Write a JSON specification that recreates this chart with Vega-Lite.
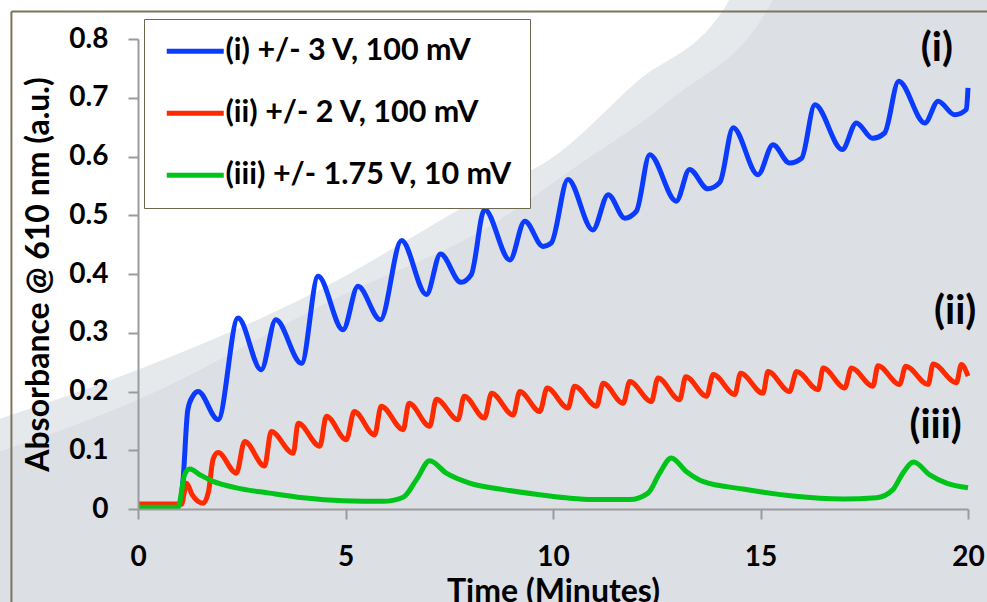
{
  "$schema": "https://vega.github.io/schema/vega-lite/v6.json",
  "autosize": {"type": "none"},
  "padding": {"left": 138, "top": 39, "right": 19, "bottom": 93},
  "width": 830,
  "height": 470,
  "background": "#dcdfe4",
  "config": {
    "view": {"stroke": null},
    "font": "Lato",
    "axis": {"grid": false, "domainColor": "#9b9b9b", "domainWidth": 2, "tickColor": "#9b9b9b", "tickWidth": 2, "tickSize": 10, "labelFont": "Lato", "labelFontWeight": "bold", "labelFontSize": 28, "labelColor": "#000000", "titleFont": "Lato", "titleFontWeight": "bold", "titleFontSize": 32, "titleColor": "#000000"}
  },
  "datasets": {
    "curves": [
      {"s": "(i) +/- 3 V, 100 mV", "t": 0, "a": 0.008},
      {"s": "(i) +/- 3 V, 100 mV", "t": 1.0, "a": 0.008},
      {"s": "(i) +/- 3 V, 100 mV", "t": 1.08, "a": 0.045},
      {"s": "(i) +/- 3 V, 100 mV", "t": 1.2, "a": 0.169},
      {"s": "(i) +/- 3 V, 100 mV", "t": 1.32, "a": 0.192},
      {"s": "(i) +/- 3 V, 100 mV", "t": 1.45, "a": 0.2},
      {"s": "(i) +/- 3 V, 100 mV", "t": 1.93, "a": 0.152},
      {"s": "(i) +/- 3 V, 100 mV", "t": 2.41, "a": 0.325},
      {"s": "(i) +/- 3 V, 100 mV", "t": 2.97, "a": 0.237},
      {"s": "(i) +/- 3 V, 100 mV", "t": 3.32, "a": 0.322},
      {"s": "(i) +/- 3 V, 100 mV", "t": 3.94, "a": 0.248},
      {"s": "(i) +/- 3 V, 100 mV", "t": 4.34, "a": 0.396},
      {"s": "(i) +/- 3 V, 100 mV", "t": 4.94, "a": 0.305},
      {"s": "(i) +/- 3 V, 100 mV", "t": 5.3, "a": 0.379},
      {"s": "(i) +/- 3 V, 100 mV", "t": 5.84, "a": 0.322},
      {"s": "(i) +/- 3 V, 100 mV", "t": 6.35, "a": 0.457},
      {"s": "(i) +/- 3 V, 100 mV", "t": 6.95, "a": 0.365},
      {"s": "(i) +/- 3 V, 100 mV", "t": 7.29, "a": 0.434},
      {"s": "(i) +/- 3 V, 100 mV", "t": 7.78, "a": 0.386},
      {"s": "(i) +/- 3 V, 100 mV", "t": 8.03, "a": 0.399},
      {"s": "(i) +/- 3 V, 100 mV", "t": 8.35, "a": 0.51},
      {"s": "(i) +/- 3 V, 100 mV", "t": 8.96, "a": 0.424},
      {"s": "(i) +/- 3 V, 100 mV", "t": 9.32, "a": 0.49},
      {"s": "(i) +/- 3 V, 100 mV", "t": 9.76, "a": 0.447},
      {"s": "(i) +/- 3 V, 100 mV", "t": 9.96, "a": 0.453},
      {"s": "(i) +/- 3 V, 100 mV", "t": 10.36, "a": 0.561},
      {"s": "(i) +/- 3 V, 100 mV", "t": 10.96, "a": 0.475},
      {"s": "(i) +/- 3 V, 100 mV", "t": 11.33, "a": 0.535},
      {"s": "(i) +/- 3 V, 100 mV", "t": 11.73, "a": 0.495},
      {"s": "(i) +/- 3 V, 100 mV", "t": 12.01, "a": 0.507},
      {"s": "(i) +/- 3 V, 100 mV", "t": 12.33, "a": 0.603},
      {"s": "(i) +/- 3 V, 100 mV", "t": 12.97, "a": 0.524},
      {"s": "(i) +/- 3 V, 100 mV", "t": 13.29, "a": 0.578},
      {"s": "(i) +/- 3 V, 100 mV", "t": 13.73, "a": 0.545},
      {"s": "(i) +/- 3 V, 100 mV", "t": 14.02, "a": 0.556},
      {"s": "(i) +/- 3 V, 100 mV", "t": 14.34, "a": 0.649},
      {"s": "(i) +/- 3 V, 100 mV", "t": 14.94, "a": 0.569},
      {"s": "(i) +/- 3 V, 100 mV", "t": 15.3, "a": 0.62},
      {"s": "(i) +/- 3 V, 100 mV", "t": 15.7, "a": 0.589},
      {"s": "(i) +/- 3 V, 100 mV", "t": 15.99, "a": 0.597},
      {"s": "(i) +/- 3 V, 100 mV", "t": 16.31, "a": 0.688},
      {"s": "(i) +/- 3 V, 100 mV", "t": 16.97, "a": 0.612},
      {"s": "(i) +/- 3 V, 100 mV", "t": 17.31, "a": 0.657},
      {"s": "(i) +/- 3 V, 100 mV", "t": 17.7, "a": 0.631},
      {"s": "(i) +/- 3 V, 100 mV", "t": 17.99, "a": 0.64},
      {"s": "(i) +/- 3 V, 100 mV", "t": 18.33, "a": 0.728},
      {"s": "(i) +/- 3 V, 100 mV", "t": 18.96, "a": 0.657},
      {"s": "(i) +/- 3 V, 100 mV", "t": 19.28, "a": 0.694},
      {"s": "(i) +/- 3 V, 100 mV", "t": 19.68, "a": 0.671},
      {"s": "(i) +/- 3 V, 100 mV", "t": 19.96, "a": 0.68},
      {"s": "(i) +/- 3 V, 100 mV", "t": 20.0, "a": 0.717},
      {"s": "(ii) +/- 2 V, 100 mV", "t": 0, "a": 0.008},
      {"s": "(ii) +/- 2 V, 100 mV", "t": 1.05, "a": 0.008},
      {"s": "(ii) +/- 2 V, 100 mV", "t": 1.12, "a": 0.03},
      {"s": "(ii) +/- 2 V, 100 mV", "t": 1.17, "a": 0.044},
      {"s": "(ii) +/- 2 V, 100 mV", "t": 1.3, "a": 0.025},
      {"s": "(ii) +/- 2 V, 100 mV", "t": 1.57, "a": 0.01},
      {"s": "(ii) +/- 2 V, 100 mV", "t": 1.7, "a": 0.03},
      {"s": "(ii) +/- 2 V, 100 mV", "t": 1.81, "a": 0.085},
      {"s": "(ii) +/- 2 V, 100 mV", "t": 1.93, "a": 0.096},
      {"s": "(ii) +/- 2 V, 100 mV", "t": 2.37, "a": 0.061},
      {"s": "(ii) +/- 2 V, 100 mV", "t": 2.57, "a": 0.115},
      {"s": "(ii) +/- 2 V, 100 mV", "t": 3.05, "a": 0.073},
      {"s": "(ii) +/- 2 V, 100 mV", "t": 3.21, "a": 0.132},
      {"s": "(ii) +/- 2 V, 100 mV", "t": 3.74, "a": 0.095},
      {"s": "(ii) +/- 2 V, 100 mV", "t": 3.86, "a": 0.146},
      {"s": "(ii) +/- 2 V, 100 mV", "t": 4.38, "a": 0.107},
      {"s": "(ii) +/- 2 V, 100 mV", "t": 4.54, "a": 0.158},
      {"s": "(ii) +/- 2 V, 100 mV", "t": 5.02, "a": 0.118},
      {"s": "(ii) +/- 2 V, 100 mV", "t": 5.21, "a": 0.166},
      {"s": "(ii) +/- 2 V, 100 mV", "t": 5.7, "a": 0.126},
      {"s": "(ii) +/- 2 V, 100 mV", "t": 5.86, "a": 0.175},
      {"s": "(ii) +/- 2 V, 100 mV", "t": 6.39, "a": 0.135},
      {"s": "(ii) +/- 2 V, 100 mV", "t": 6.53, "a": 0.18},
      {"s": "(ii) +/- 2 V, 100 mV", "t": 7.03, "a": 0.141},
      {"s": "(ii) +/- 2 V, 100 mV", "t": 7.19, "a": 0.187},
      {"s": "(ii) +/- 2 V, 100 mV", "t": 7.71, "a": 0.152},
      {"s": "(ii) +/- 2 V, 100 mV", "t": 7.86, "a": 0.192},
      {"s": "(ii) +/- 2 V, 100 mV", "t": 8.35, "a": 0.155},
      {"s": "(ii) +/- 2 V, 100 mV", "t": 8.52, "a": 0.197},
      {"s": "(ii) +/- 2 V, 100 mV", "t": 9.04, "a": 0.16},
      {"s": "(ii) +/- 2 V, 100 mV", "t": 9.2, "a": 0.2},
      {"s": "(ii) +/- 2 V, 100 mV", "t": 9.68, "a": 0.166},
      {"s": "(ii) +/- 2 V, 100 mV", "t": 9.86, "a": 0.206},
      {"s": "(ii) +/- 2 V, 100 mV", "t": 10.36, "a": 0.172},
      {"s": "(ii) +/- 2 V, 100 mV", "t": 10.52, "a": 0.209},
      {"s": "(ii) +/- 2 V, 100 mV", "t": 11.05, "a": 0.175},
      {"s": "(ii) +/- 2 V, 100 mV", "t": 11.21, "a": 0.214},
      {"s": "(ii) +/- 2 V, 100 mV", "t": 11.69, "a": 0.18},
      {"s": "(ii) +/- 2 V, 100 mV", "t": 11.85, "a": 0.217},
      {"s": "(ii) +/- 2 V, 100 mV", "t": 12.37, "a": 0.183},
      {"s": "(ii) +/- 2 V, 100 mV", "t": 12.53, "a": 0.223},
      {"s": "(ii) +/- 2 V, 100 mV", "t": 13.05, "a": 0.186},
      {"s": "(ii) +/- 2 V, 100 mV", "t": 13.2, "a": 0.225},
      {"s": "(ii) +/- 2 V, 100 mV", "t": 13.7, "a": 0.192},
      {"s": "(ii) +/- 2 V, 100 mV", "t": 13.86, "a": 0.229},
      {"s": "(ii) +/- 2 V, 100 mV", "t": 14.38, "a": 0.195},
      {"s": "(ii) +/- 2 V, 100 mV", "t": 14.52, "a": 0.231},
      {"s": "(ii) +/- 2 V, 100 mV", "t": 15.06, "a": 0.197},
      {"s": "(ii) +/- 2 V, 100 mV", "t": 15.18, "a": 0.234},
      {"s": "(ii) +/- 2 V, 100 mV", "t": 15.7, "a": 0.2},
      {"s": "(ii) +/- 2 V, 100 mV", "t": 15.87, "a": 0.234},
      {"s": "(ii) +/- 2 V, 100 mV", "t": 16.39, "a": 0.203},
      {"s": "(ii) +/- 2 V, 100 mV", "t": 16.51, "a": 0.24},
      {"s": "(ii) +/- 2 V, 100 mV", "t": 17.03, "a": 0.206},
      {"s": "(ii) +/- 2 V, 100 mV", "t": 17.19, "a": 0.24},
      {"s": "(ii) +/- 2 V, 100 mV", "t": 17.71, "a": 0.209},
      {"s": "(ii) +/- 2 V, 100 mV", "t": 17.83, "a": 0.244},
      {"s": "(ii) +/- 2 V, 100 mV", "t": 18.35, "a": 0.212},
      {"s": "(ii) +/- 2 V, 100 mV", "t": 18.5, "a": 0.243},
      {"s": "(ii) +/- 2 V, 100 mV", "t": 19.04, "a": 0.212},
      {"s": "(ii) +/- 2 V, 100 mV", "t": 19.16, "a": 0.247},
      {"s": "(ii) +/- 2 V, 100 mV", "t": 19.72, "a": 0.215},
      {"s": "(ii) +/- 2 V, 100 mV", "t": 19.84, "a": 0.246},
      {"s": "(ii) +/- 2 V, 100 mV", "t": 20.0, "a": 0.226},
      {"s": "(iii) +/- 1.75 V, 10 mV", "t": 0, "a": 0.003},
      {"s": "(iii) +/- 1.75 V, 10 mV", "t": 0.97, "a": 0.003},
      {"s": "(iii) +/- 1.75 V, 10 mV", "t": 1.05, "a": 0.03},
      {"s": "(iii) +/- 1.75 V, 10 mV", "t": 1.12, "a": 0.058},
      {"s": "(iii) +/- 1.75 V, 10 mV", "t": 1.25, "a": 0.068},
      {"s": "(iii) +/- 1.75 V, 10 mV", "t": 1.5, "a": 0.058},
      {"s": "(iii) +/- 1.75 V, 10 mV", "t": 1.81, "a": 0.047},
      {"s": "(iii) +/- 1.75 V, 10 mV", "t": 2.37, "a": 0.036},
      {"s": "(iii) +/- 1.75 V, 10 mV", "t": 3.17, "a": 0.027},
      {"s": "(iii) +/- 1.75 V, 10 mV", "t": 3.98, "a": 0.019},
      {"s": "(iii) +/- 1.75 V, 10 mV", "t": 4.94, "a": 0.014},
      {"s": "(iii) +/- 1.75 V, 10 mV", "t": 5.9, "a": 0.013},
      {"s": "(iii) +/- 1.75 V, 10 mV", "t": 6.39, "a": 0.02},
      {"s": "(iii) +/- 1.75 V, 10 mV", "t": 6.71, "a": 0.05},
      {"s": "(iii) +/- 1.75 V, 10 mV", "t": 7.03, "a": 0.082},
      {"s": "(iii) +/- 1.75 V, 10 mV", "t": 7.43, "a": 0.061},
      {"s": "(iii) +/- 1.75 V, 10 mV", "t": 7.99, "a": 0.044},
      {"s": "(iii) +/- 1.75 V, 10 mV", "t": 8.8, "a": 0.033},
      {"s": "(iii) +/- 1.75 V, 10 mV", "t": 9.6, "a": 0.025},
      {"s": "(iii) +/- 1.75 V, 10 mV", "t": 10.32, "a": 0.019},
      {"s": "(iii) +/- 1.75 V, 10 mV", "t": 10.96, "a": 0.016},
      {"s": "(iii) +/- 1.75 V, 10 mV", "t": 11.85, "a": 0.016},
      {"s": "(iii) +/- 1.75 V, 10 mV", "t": 12.29, "a": 0.027},
      {"s": "(iii) +/- 1.75 V, 10 mV", "t": 12.57, "a": 0.061},
      {"s": "(iii) +/- 1.75 V, 10 mV", "t": 12.85, "a": 0.087},
      {"s": "(iii) +/- 1.75 V, 10 mV", "t": 13.21, "a": 0.064},
      {"s": "(iii) +/- 1.75 V, 10 mV", "t": 13.61, "a": 0.047},
      {"s": "(iii) +/- 1.75 V, 10 mV", "t": 14.58, "a": 0.034},
      {"s": "(iii) +/- 1.75 V, 10 mV", "t": 15.78, "a": 0.022},
      {"s": "(iii) +/- 1.75 V, 10 mV", "t": 16.99, "a": 0.017},
      {"s": "(iii) +/- 1.75 V, 10 mV", "t": 17.79, "a": 0.019},
      {"s": "(iii) +/- 1.75 V, 10 mV", "t": 18.19, "a": 0.033},
      {"s": "(iii) +/- 1.75 V, 10 mV", "t": 18.43, "a": 0.061},
      {"s": "(iii) +/- 1.75 V, 10 mV", "t": 18.69, "a": 0.08},
      {"s": "(iii) +/- 1.75 V, 10 mV", "t": 19.08, "a": 0.058},
      {"s": "(iii) +/- 1.75 V, 10 mV", "t": 19.48, "a": 0.044},
      {"s": "(iii) +/- 1.75 V, 10 mV", "t": 20.0, "a": 0.036}
    ],
    "swoosh": [
      {"band": "light", "bx": -3.4, "by": 0.096},
      {"band": "light", "bx": 0, "by": 0.186},
      {"band": "light", "bx": 4.69, "by": 0.356},
      {"band": "light", "bx": 8.71, "by": 0.492},
      {"band": "light", "bx": 10.33, "by": 0.572},
      {"band": "light", "bx": 12.84, "by": 0.697},
      {"band": "light", "bx": 15.3, "by": 0.867},
      {"band": "light", "bx": 15.85, "by": 0.95},
      {"band": "white", "bx": -3.4, "by": 0.152},
      {"band": "white", "bx": 0, "by": 0.237},
      {"band": "white", "bx": 3.9, "by": 0.356},
      {"band": "white", "bx": 8.71, "by": 0.549},
      {"band": "white", "bx": 9.92, "by": 0.595},
      {"band": "white", "bx": 12.0, "by": 0.726},
      {"band": "white", "bx": 14.25, "by": 0.867},
      {"band": "white", "bx": 14.8, "by": 0.95}
    ],
    "labels": [
      {"lab": "(i)", "lx": 19.25, "ly": 0.783},
      {"lab": "(ii)", "lx": 19.69, "ly": 0.335},
      {"lab": "(iii)", "lx": 19.22, "ly": 0.142}
    ]
  },
  "layer": [
    {
      "data": {"name": "swoosh"},
      "mark": {"type": "area", "interpolate": "monotone", "clip": false},
      "encoding": {
        "x": {"field": "bx", "type": "quantitative", "scale": {"domain": [0, 20], "nice": false}},
        "y": {"field": "by", "type": "quantitative", "scale": {"domain": [0, 0.8], "nice": false}},
        "y2": {"datum": 0.95},
        "detail": {"field": "band"},
        "fill": {"field": "band", "type": "nominal", "scale": {"domain": ["light", "white"], "range": ["#e6e9ec", "#ffffff"]}, "legend": null}
      }
    },
    {
      "data": {"values": [{}]},
      "mark": {"type": "rule", "color": "#7b745c", "strokeWidth": 2, "clip": false},
      "encoding": {"x": {"datum": -3.05}, "y": {"datum": 0.847}, "y2": {"datum": -0.3}}
    },
    {
      "data": {"values": [{}]},
      "mark": {"type": "rule", "color": "#7b745c", "strokeWidth": 2, "clip": false},
      "encoding": {"y": {"datum": 0.847}, "x": {"datum": -3.05}, "x2": {"datum": 21.5}}
    },
    {
      "data": {"name": "curves"},
      "mark": {"type": "line", "interpolate": "monotone", "strokeWidth": 5},
      "encoding": {
        "x": {"field": "t", "type": "quantitative", "title": "Time (Minutes)", "axis": {"zindex": 1, "values": [0, 5, 10, 15, 20], "labelPadding": 24, "titlePadding": 5, "labelFlush": false}},
        "y": {"field": "a", "type": "quantitative", "title": "Absorbance @ 610 nm (a.u.)", "axis": {"zindex": 1, "values": [0, 0.1, 0.2, 0.3, 0.4, 0.5, 0.6, 0.7, 0.8], "format": "~g", "labelPadding": 20, "titlePadding": 13}},
        "color": {
          "field": "s", "type": "nominal",
          "scale": {"domain": ["(i) +/- 3 V, 100 mV", "(ii) +/- 2 V, 100 mV", "(iii) +/- 1.75 V, 10 mV"], "range": ["#0a3bff", "#ff2a00", "#00c41a"]},
          "legend": {"title": null, "orient": "none", "legendX": 6, "legendY": -20, "symbolType": "M-1,0H5", "symbolSize": 361, "symbolStrokeWidth": 5, "labelFont": "Lato", "labelFontWeight": "bold", "labelFontSize": 30.5, "labelColor": "#000000", "labelOffset": 34, "padding": 17, "rowPadding": 31, "fillColor": "#ffffff", "strokeColor": "#6e6750", "labelLimit": 500}
        }
      }
    },
    {
      "data": {"name": "labels"},
      "mark": {"type": "text", "font": "Lato", "fontWeight": "bold", "fontSize": 40, "align": "center", "baseline": "middle", "color": "#000000", "clip": false},
      "encoding": {
        "x": {"field": "lx", "type": "quantitative"},
        "y": {"field": "ly", "type": "quantitative"},
        "text": {"field": "lab"}
      }
    }
  ]
}
